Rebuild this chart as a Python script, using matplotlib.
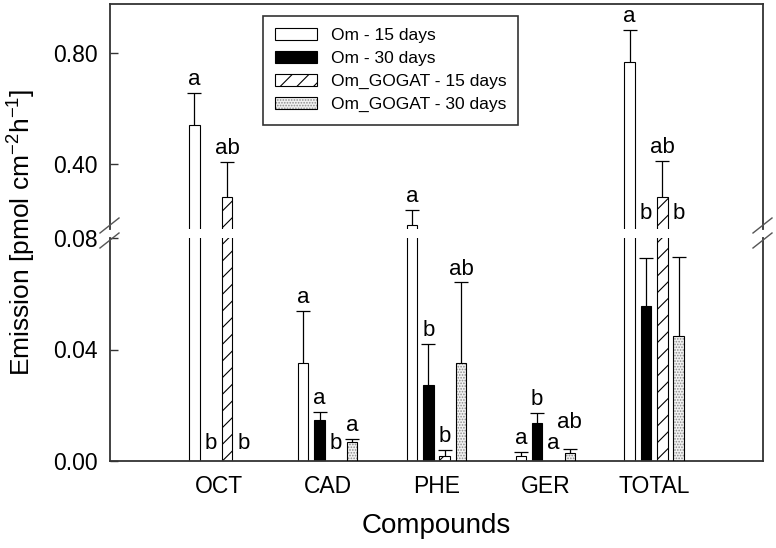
"""
Emission of volatile compounds for Om and Om_GOGAT at 15 and 30 days,
drawn as grouped bars on a broken y axis (0-0.08 below, 0.17-0.98 above).
"""

import numpy as np
import matplotlib.pyplot as plt
from matplotlib.lines import Line2D

plt.rcParams["font.family"] = ["Liberation Sans", "DejaVu Sans"]
plt.rcParams["mathtext.fontset"] = "custom"
plt.rcParams["mathtext.rm"] = "Liberation Sans"
plt.rcParams["mathtext.it"] = "Liberation Sans:italic"
plt.rcParams["hatch.linewidth"] = 0.8

# ---------------------------------------------------------------------------
# Data
# ---------------------------------------------------------------------------
categories = ["OCT", "CAD", "PHE", "GER", "TOTAL"]
series = ["Om - 15 days", "Om - 30 days", "Om_GOGAT - 15 days", "Om_GOGAT - 30 days"]

om15 = [0.541, 0.0352, 0.180, 0.0018, 0.769]
om15_err = [0.116, 0.0187, 0.054, 0.0015, 0.115]
om30 = [0.0, 0.0147, 0.0273, 0.0135, 0.0557]
om30_err = [0.0, 0.0028, 0.0146, 0.0038, 0.0170]
gog15 = [0.281, 0.0, 0.0019, 0.0, 0.281]
gog15_err = [0.126, 0.0, 0.0020, 0.0, 0.129]
gog30 = [0.0, 0.0067, 0.0350, 0.0028, 0.0448]
gog30_err = [0.0, 0.0011, 0.0291, 0.0014, 0.0285]

om15_letters = ["a", "a", "a", "a", "a"]
om30_letters = ["b", "a", "b", "b", "b"]
gog15_letters = ["ab", "b", "b", "a", "ab"]
gog30_letters = ["b", "a", "ab", "ab", "b"]

# ---------------------------------------------------------------------------
# Layout
# ---------------------------------------------------------------------------
W, H = 776, 548
LOW_LIM = (0.0, 0.08)
UP_LIM = (0.165, 0.978)
SPINE = "#333333"
# extra lift (points) for letters that would collide with a neighbour
label_lift = {(3, 3): 10}

fig = plt.figure(figsize=(W / 100, H / 100), dpi=100)
ax_low = fig.add_axes([110 / W, (H - 461) / H, 653 / W, 223 / H])
ax_up = fig.add_axes([110 / W, (H - 229) / H, 653 / W, 225 / H])

x = np.arange(len(categories))
step = 0.15
width = 0.097

styles = [
    dict(facecolor="white", edgecolor="black"),
    dict(facecolor="black", edgecolor="black"),
    dict(facecolor="white", edgecolor="black", hatch="//"),
    None,  # stippled, drawn in two layers below
]
values = [om15, om30, gog15, gog30]
errors = [om15_err, om30_err, gog15_err, gog30_err]
letters = [om15_letters, om30_letters, gog15_letters, gog30_letters]

handles = []
for i, (vals, errs, sty) in enumerate(zip(values, errors, styles)):
    vals = np.asarray(vals)
    errs = np.asarray(errs)
    pos = x + (i - 1.5) * step
    keep = vals > 0
    for ax in (ax_low, ax_up):
        if sty is None:
            b1 = ax.bar(pos[keep], vals[keep], width, facecolor="#f2f2f2",
                        edgecolor="#8c8c8c", lw=0, hatch="......", zorder=2)
            b2 = ax.bar(pos[keep], vals[keep], width, facecolor="none",
                        edgecolor="black", lw=0.8, zorder=3)
            h = (b1, b2)
        else:
            h = ax.bar(pos[keep], vals[keep], width, lw=0.8, zorder=2, **sty)
        # upper error bars only
        ax.vlines(pos[keep], vals[keep], vals[keep] + errs[keep], color="black",
                  lw=0.9, zorder=4)
        ax.plot(pos[keep], vals[keep] + errs[keep], ls="none", marker="_", ms=9.4,
                mew=0.9, color="black", zorder=4)
    handles.append(h)

# significance letters
for i, (vals, errs, labs) in enumerate(zip(values, errors, letters)):
    pos = x + (i - 1.5) * step
    for j, (p, v, e, lab) in enumerate(zip(pos, vals, errs, labs)):
        top = v + e
        lift = label_lift.get((j, i), 0)
        if v == 0:
            ax_low.annotate(lab, (p, 0), xytext=(0, 12.5), textcoords="offset points",
                            ha="center", va="center", fontsize=16)
        elif 0.07 < top <= LOW_LIM[1]:
            # would sit on the break: lifted just above it
            ax_up.annotate(lab, (p, UP_LIM[0]), xytext=(0, 11.5), textcoords="offset points",
                           ha="center", va="center", fontsize=16)
        else:
            ax = ax_up if top > LOW_LIM[1] else ax_low
            ax.annotate(lab, (p, top), xytext=(0, 2 + lift), textcoords="offset points",
                        ha="center", va="bottom", fontsize=16)

# ---------------------------------------------------------------------------
# Axes styling
# ---------------------------------------------------------------------------
for ax in (ax_low, ax_up):
    ax.set_xlim(-1.0, 5.0)
    for s in ax.spines.values():
        s.set_color(SPINE)
        s.set_linewidth(1.3)
    ax.tick_params(axis="y", direction="in", length=6, width=1.0, color=SPINE,
                   pad=9, labelsize=16.5)
    ax.tick_params(axis="x", length=0, pad=10, labelsize=16.5)

ax_low.set_ylim(*LOW_LIM)
ax_low.set_yticks([0.0, 0.04, 0.08])
ax_low.set_yticklabels(["0.00", "0.04", "0.08"])
ax_low.set_xticks(x)
ax_low.set_xticklabels(categories)
ax_low.spines["top"].set_visible(False)

ax_up.set_ylim(*UP_LIM)
ax_up.set_yticks([0.40, 0.80])
ax_up.set_yticklabels(["0.40", "0.80"])
ax_up.set_xticks([])
ax_up.spines["bottom"].set_visible(False)

# break marks on both vertical spines
for xc in (110, 763):
    for yc in (225, 240):
        fig.add_artist(Line2D([(xc - 10) / W, (xc + 9) / W],
                              [1 - (yc + 8) / H, 1 - (yc - 7) / H],
                              color="#555555", lw=1.0))

fig.text(436 / W, 1 - 526 / H, "Compounds", ha="center", va="center", fontsize=20)
fig.text(22 / W, 1 - 232 / H, r"Emission [pmol cm$^{-2}$h$^{-1}$]", rotation=90,
         ha="center", va="center", fontsize=19)

leg = ax_up.legend(handles, series, loc="upper left", bbox_to_anchor=(263 / W, 1 - 16 / H),
                   bbox_transform=fig.transFigure, fontsize=12.5, frameon=True, fancybox=False,
                   edgecolor=SPINE, framealpha=1, borderaxespad=0, borderpad=0.7,
                   handlelength=2.4, handleheight=0.7, handletextpad=0.8, labelspacing=0.45)
leg.get_frame().set_linewidth(1.2)

fig.savefig("out.png", dpi=100)
